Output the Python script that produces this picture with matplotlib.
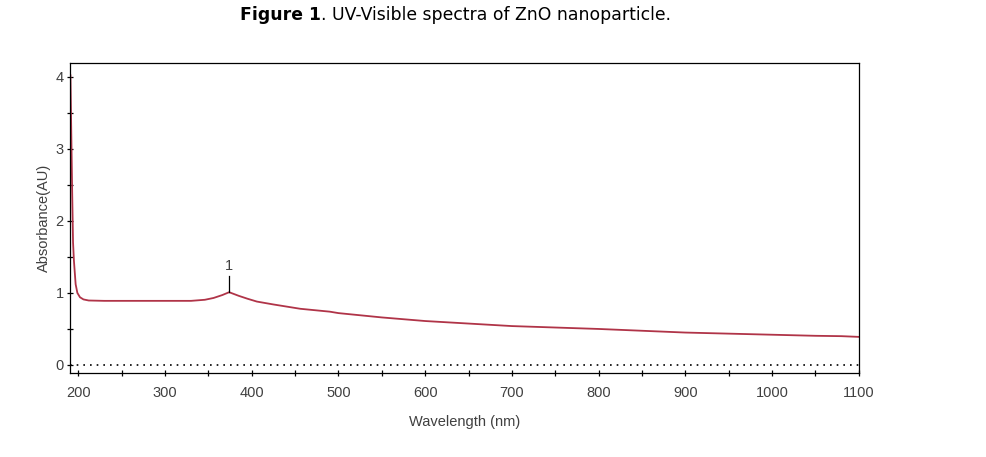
import numpy as np
import matplotlib
matplotlib.use("Agg")
import matplotlib.pyplot as plt
from matplotlib.ticker import MultipleLocator

# 读图估计的光谱数据
wavelength = [191, 192, 193, 194, 195, 197, 199, 202, 206, 212, 230, 300, 330,
              346, 356, 366, 374, 385, 395, 406, 425, 456, 490, 500, 550, 600,
              650, 700, 750, 800, 850, 900, 950, 1000, 1050, 1080, 1100]
absorbance = [4.02, 3.2, 2.4, 1.7, 1.45, 1.12, 1.0, 0.94, 0.91, 0.895, 0.89, 0.89, 0.89,
              0.905, 0.93, 0.97, 1.01, 0.96, 0.92, 0.88, 0.84, 0.78, 0.74, 0.72, 0.66, 0.61,
              0.575, 0.54, 0.52, 0.50, 0.475, 0.45, 0.435, 0.42, 0.405, 0.40, 0.39]

peak_x = 374
peak_y = 1.01
peak_label = "1"

xticks = [200, 300, 400, 500, 600, 700, 800, 900, 1000, 1100]
yticks = [0, 1, 2, 3, 4]

title_bold = "Figure 1"
title_rest = ". UV-Visible spectra of ZnO nanoparticle."

plt.rcParams['font.family'] = ['Liberation Sans', 'DejaVu Sans']

fig = plt.figure(figsize=(9.86, 4.57), dpi=100)
ax = fig.add_axes([0.071, 0.184, 0.80, 0.678])

ax.plot(wavelength, absorbance, color='#b03448', lw=1.3)
ax.axhline(0, color='black', ls=(0, (1, 3)), lw=1.2)

# 峰标记
ax.plot([peak_x, peak_x], [peak_y, 1.24], color='black', lw=0.9)
ax.text(peak_x, 1.28, peak_label, ha='center', va='bottom', fontsize=10.5, color='#404040')

ax.set_xlim(190.5, 1100)
ax.set_ylim(-0.11, 4.19)
ax.set_xticks(xticks)
ax.set_yticks(yticks)
ax.xaxis.set_minor_locator(MultipleLocator(50))
ax.yaxis.set_minor_locator(MultipleLocator(0.5))
ax.tick_params(which='both', direction='inout', length=5, width=0.9,
               labelsize=10.5, labelcolor='#404040')
ax.tick_params(axis='x', pad=7)
ax.tick_params(axis='y', pad=2)

ax.set_xlabel("Wavelength (nm)", fontsize=10.5, color='#404040', labelpad=11)
ax.set_ylabel("Absorbance(AU)", fontsize=10.5, color='#404040', labelpad=3)

for sp in ax.spines.values():
    sp.set_linewidth(0.9)

t1 = fig.text(0.2435, 0.968, title_bold, fontsize=12.4, fontweight='bold',
              family=['DejaVu Sans'], va='center', ha='left')
fig.canvas.draw()
bb = t1.get_window_extent()
x_end = bb.x1 / fig.bbox.width
fig.text(x_end, 0.968, title_rest, fontsize=12.4, family=['DejaVu Sans'],
         va='center', ha='left')

fig.savefig("out.png", dpi=100)
